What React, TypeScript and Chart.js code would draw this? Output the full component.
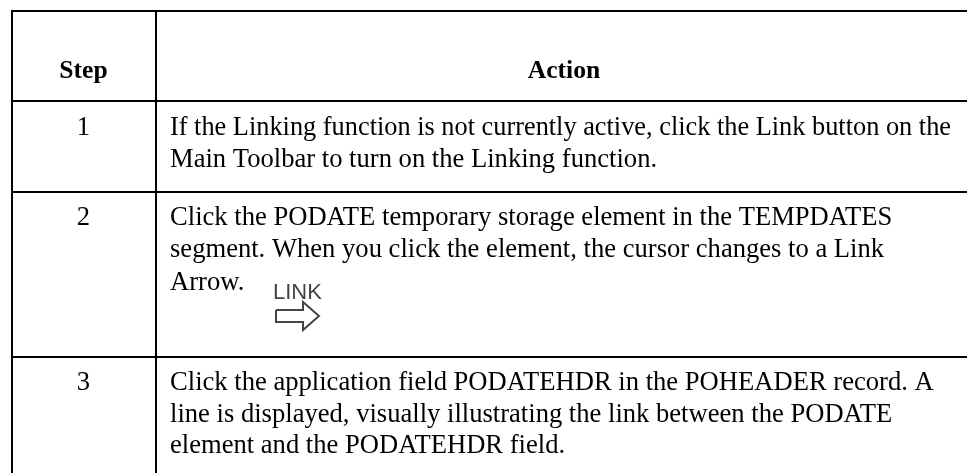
import React, { useEffect, useRef } from "react";
import { Chart, registerables } from "chart.js";

Chart.register(...registerables);

const WIDTH = 967;
const HEIGHT = 473;

const hRuleYs = [11, 101, 192, 357];
const vRuleXs = [12, 156];

const headers = ["Step", "Action"];
const headerXs = [83.5, 564];
const headerY = 78;

const stepLabels = ["1", "2", "3"];
const stepX = 83.5;
const stepYs = [135, 225, 390];

const bodyX = 170;
const bodyLines = [
  "If the Linking function is not currently active, click the Link button on the",
  "Main Toolbar to turn on the Linking function.",
  "Click the PODATE temporary storage element in the TEMPDATES",
  "segment. When you click the element, the cursor changes to a Link",
  "Arrow.",
  "Click the application field PODATEHDR in the POHEADER record. A",
  "line is displayed, visually illustrating the link between the PODATE",
  "element and the PODATEHDR field.",
];
const bodyYs = [135, 167, 225, 257, 290, 390, 422, 453];
const bodyMaxWidth = 781;

const linkLabel = "LINK";
const linkPos = [273, 299];
const arrowXs = [276, 303, 303, 319, 303, 303, 276, 276];
const arrowYs = [310, 310, 302, 316, 330, 322, 322, 310];

const SERIF = '"Liberation Serif", "Times New Roman", serif';
const SANS = '"Liberation Sans", Arial, sans-serif';

const tablePlugin = {
  id: "tableText",
  afterDatasetsDraw(chart: any) {
    const { ctx, scales } = chart;
    const x = (v: number) => scales.x.getPixelForValue(v);
    const y = (v: number) => scales.y.getPixelForValue(v);
    ctx.save();
    ctx.fillStyle = "#000";
    ctx.textBaseline = "alphabetic";
    ctx.textAlign = "center";
    ctx.font = `bold 25.6px ${SERIF}`;
    headers.forEach((t, i) => ctx.fillText(t, x(headerXs[i]), y(headerY)));
    ctx.font = `26.6px ${SERIF}`;
    stepLabels.forEach((t, i) => ctx.fillText(t, x(stepX), y(stepYs[i])));
    ctx.textAlign = "left";
    bodyLines.forEach((t, i) => ctx.fillText(t, x(bodyX), y(bodyYs[i]), bodyMaxWidth));
    ctx.fillStyle = "#444";
    ctx.font = `22px ${SANS}`;
    ctx.fillText(linkLabel, x(linkPos[0]), y(linkPos[1]));
    ctx.restore();
  },
};

export default function App() {
  const ref = useRef<HTMLCanvasElement>(null);
  useEffect(() => {
    const ruleStyle = { borderColor: "#000", borderWidth: 2, pointRadius: 0, tension: 0 };
    const datasets: any[] = [
      ...hRuleYs.map((v) => ({
        ...ruleStyle,
        data: [{ x: vRuleXs[0] - 1, y: v }, { x: WIDTH, y: v }],
      })),
      ...vRuleXs.map((v) => ({
        ...ruleStyle,
        data: [{ x: v, y: hRuleYs[0] }, { x: v, y: HEIGHT }],
      })),
      {
        borderColor: "#444",
        borderWidth: 2,
        pointRadius: 0,
        tension: 0,
        data: arrowXs.map((v, i) => ({ x: v, y: arrowYs[i] })),
      },
    ];
    const chart = new Chart(ref.current!, {
      type: "line",
      data: { datasets },
      options: {
        animation: false,
        responsive: false,
        layout: { padding: 0 },
        plugins: { legend: { display: false }, tooltip: { enabled: false }, title: { display: false } },
        scales: {
          x: { type: "linear", min: 0, max: WIDTH, display: false },
          y: { type: "linear", min: 0, max: HEIGHT, reverse: true, display: false },
        },
      },
      plugins: [tablePlugin],
    } as any);
    return () => chart.destroy();
  }, []);
  return (
    <div style={{ position: "fixed", left: 0, top: 0, width: WIDTH, height: HEIGHT, background: "#fff" }}>
      <canvas ref={ref} width={WIDTH} height={HEIGHT} style={{ display: "block" }} />
    </div>
  );
}
